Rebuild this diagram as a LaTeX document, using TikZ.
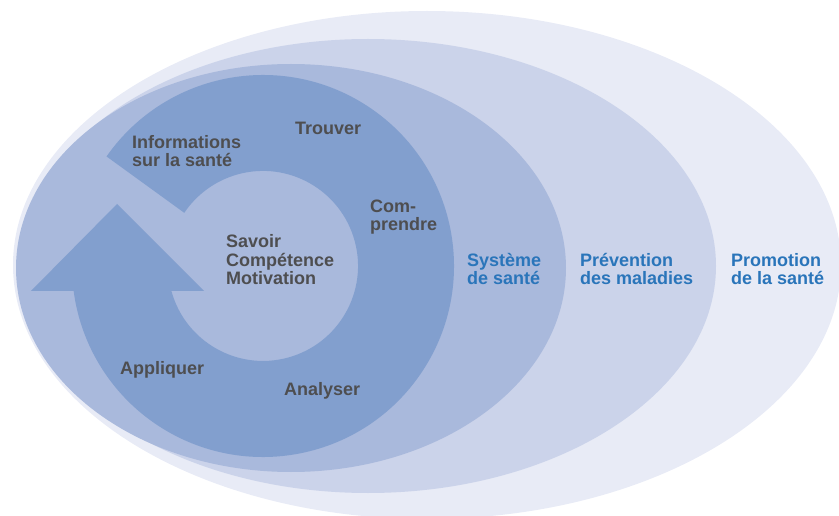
\documentclass[tikz,border=0pt]{standalone}
\usepackage{fontspec}
\setmainfont{Liberation Sans}
\begin{document}
\begin{tikzpicture}[x=1pt,y=1pt]
    \definecolor{hlit_promo}{RGB}{232,235,246}
    \definecolor{hlit_prev}{RGB}{203,211,234}
    \definecolor{hlit_sys}{RGB}{169,185,220}
    \definecolor{hlit_cycle}{RGB}{130,159,206}
    \definecolor{hlit_gray}{RGB}{78,78,80}
    \definecolor{hlit_blue}{RGB}{42,117,186}
    \tikzset{lbl/.style={anchor=base west,inner sep=0,align=left,text=hlit_gray,font=\bfseries\fontsize{18}{18.5}\selectfont},
        lblblue/.style={lbl,text=hlit_blue}}
    \useasboundingbox (0,0) rectangle (839,515);
    \fill[hlit_promo] (427,250) ellipse [x radius=414,y radius=254];
    \fill[hlit_prev] (368,249) ellipse [x radius=348,y radius=227];
    \fill[hlit_sys] (291,247) ellipse [x radius=275,y radius=204];
    \fill[hlit_cycle] (263,249) ++(145:191) arc[start angle=145,end angle=-172.5,radius=191]
        -- (31,224) -- (117,311) -- (204,224) -- (171.4,224)
        arc[start angle=-164.7,end angle=146,radius=95] -- cycle;
    % multi-line nodes: base is the last line
    \node[lbl] (info) at (132,348) {Informations\\sur la santé};
    \node[lbl] (trouver) at (295,380) {Trouver};
    \node[lbl] (comprendre) at (370,284) {Com-\\prendre};
    \node[lbl] (savoir) at (226,230) {Savoir\\Compétence\\Motivation};
    \node[lbl] (appliquer) at (120,141) {Appliquer};
    \node[lbl] (analyser) at (284,120) {Analyser};
    \node[lblblue] (systeme) at (467,230) {Système\\de santé};
    \node[lblblue] (prevention) at (580,230) {Prévention\\des maladies};
    \node[lblblue] (promotion) at (731,230) {Promotion\\de la santé};
\end{tikzpicture}
\end{document}
